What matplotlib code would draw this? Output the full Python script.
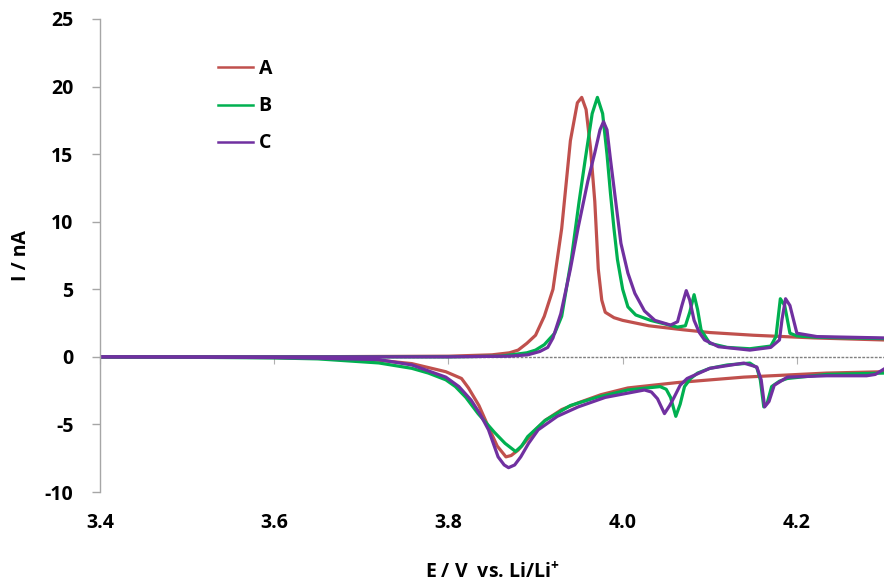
import matplotlib
matplotlib.use("Agg")
import matplotlib.pyplot as plt

# potential (V) and current (nA)
A_up_x = [3.40, 3.60, 3.80, 3.85, 3.87, 3.88, 3.89, 3.90, 3.91, 3.92, 3.93, 3.94, 3.948,
          3.953, 3.958, 3.963, 3.968, 3.972, 3.976, 3.98, 3.99, 4.00, 4.03, 4.07, 4.10,
          4.15, 4.22, 4.30]
A_up_y = [0.0, 0.0, 0.05, 0.15, 0.3, 0.5, 1.0, 1.6, 3.0, 5.0, 9.5, 16.0, 18.8,
          19.2, 18.3, 15.5, 11.5, 6.5, 4.2, 3.3, 2.9, 2.7, 2.3, 2.0, 1.8,
          1.6, 1.4, 1.25]
A_dn_x = [3.40, 3.50, 3.60, 3.65, 3.72, 3.758, 3.797, 3.815, 3.823, 3.835, 3.846, 3.856,
          3.866, 3.872, 3.88, 3.888, 3.90, 3.911, 3.93, 3.949, 3.975, 4.006, 4.063,
          4.139, 4.234, 4.30]
A_dn_y = [0.0, -0.02, -0.05, -0.1, -0.25, -0.5, -1.1, -1.6, -2.3, -3.6, -5.2, -6.6,
          -7.4, -7.3, -6.9, -6.3, -5.4, -4.7, -3.9, -3.4, -2.8, -2.3, -1.9,
          -1.5, -1.2, -1.1]

B_up_x = [3.40, 3.60, 3.80, 3.86, 3.89, 3.90, 3.91, 3.922, 3.93, 3.941, 3.95, 3.957,
          3.965, 3.971, 3.977, 3.982, 3.986, 3.99, 3.994, 4.00, 4.006, 4.015, 4.032,
          4.063, 4.072, 4.077, 4.082, 4.086, 4.09, 4.10, 4.12, 4.146, 4.17, 4.176,
          4.181, 4.186, 4.192, 4.20, 4.223, 4.30]
B_up_y = [0.0, 0.0, 0.0, 0.05, 0.3, 0.5, 0.9, 1.75, 3.0, 7.2, 11.5, 14.6,
          18.0, 19.2, 18.0, 15.0, 12.1, 9.5, 7.2, 5.0, 3.7, 3.1, 2.7,
          2.2, 2.3, 3.3, 4.6, 3.5, 2.0, 1.0, 0.7, 0.6, 0.8, 1.5,
          4.3, 3.8, 1.75, 1.55, 1.45, 1.35]
B_dn_x = [3.40, 3.50, 3.60, 3.65, 3.72, 3.758, 3.777, 3.797, 3.808, 3.82, 3.834, 3.853,
          3.865, 3.877, 3.884, 3.891, 3.911, 3.94, 3.97, 4.006, 4.043, 4.05, 4.055,
          4.061, 4.066, 4.071, 4.078, 4.086, 4.10, 4.12, 4.146, 4.154, 4.158, 4.162,
          4.166, 4.171, 4.18, 4.189, 4.234, 4.30]
B_dn_y = [0.0, -0.03, -0.08, -0.15, -0.45, -0.85, -1.2, -1.7, -2.2, -3.0, -4.2, -5.6,
          -6.4, -7.0, -6.6, -5.9, -4.7, -3.6, -3.0, -2.45, -2.2, -2.4, -3.0,
          -4.4, -3.5, -2.2, -1.6, -1.2, -0.85, -0.6, -0.46, -0.8, -1.7, -3.7,
          -3.4, -2.2, -1.8, -1.6, -1.3, -1.2]

C_up_x = [3.40, 3.80, 3.87, 3.891, 3.905, 3.914, 3.92, 3.929, 3.94, 3.949, 3.96, 3.968,
          3.974, 3.978, 3.982, 3.986, 3.992, 3.998, 4.006, 4.014, 4.025, 4.037, 4.055,
          4.063, 4.068, 4.073, 4.077, 4.082, 4.088, 4.094, 4.11, 4.146, 4.17, 4.18,
          4.183, 4.187, 4.192, 4.20, 4.223, 4.30]
C_up_y = [0.0, 0.0, 0.05, 0.15, 0.4, 0.7, 1.4, 3.2, 6.5, 9.6, 13.0, 15.1,
          16.8, 17.4, 16.8, 14.6, 11.5, 8.4, 6.2, 4.7, 3.4, 2.7, 2.35,
          2.6, 3.8, 4.9, 4.2, 2.7, 1.8, 1.25, 0.75, 0.5, 0.7, 1.25,
          2.8, 4.3, 3.8, 1.75, 1.5, 1.4]
C_dn_x = [3.40, 3.50, 3.60, 3.65, 3.72, 3.758, 3.797, 3.812, 3.826, 3.836, 3.846, 3.857,
          3.864, 3.869, 3.876, 3.883, 3.892, 3.903, 3.925, 3.949, 3.98, 4.025, 4.033,
          4.04, 4.048, 4.054, 4.059, 4.066, 4.074, 4.10, 4.139, 4.154, 4.159, 4.163,
          4.168, 4.174, 4.189, 4.234, 4.28, 4.29, 4.30]
C_dn_y = [0.0, -0.02, -0.05, -0.1, -0.2, -0.6, -1.5, -2.2, -3.2, -4.2, -5.4, -7.4,
          -8.0, -8.2, -8.0, -7.4, -6.4, -5.4, -4.4, -3.7, -3.0, -2.45, -2.6,
          -3.1, -4.2, -3.6, -3.0, -2.1, -1.6, -0.85, -0.46, -0.75, -1.7, -3.7,
          -3.3, -2.1, -1.5, -1.4, -1.4, -1.3, -0.9]

series = [
    ("A", "#C0504D", A_up_x, A_up_y, A_dn_x, A_dn_y),
    ("B", "#00B050", B_up_x, B_up_y, B_dn_x, B_dn_y),
    ("C", "#7030A0", C_up_x, C_up_y, C_dn_x, C_dn_y),
]

x_ticks = [3.4, 3.6, 3.8, 4.0, 4.2]
y_ticks = [-10, -5, 0, 5, 10, 15, 20, 25]

plt.rcParams["font.family"] = ["Open Sans", "DejaVu Sans"]
plt.rcParams["font.weight"] = "bold"
plt.rcParams["mathtext.fontset"] = "custom"
plt.rcParams["mathtext.bf"] = "Open Sans:bold"

fig = plt.figure(figsize=(8.84, 5.87), dpi=100)
ax = fig.add_axes([100 / 884, 95 / 587, 784 / 884, 473 / 587])

for name, color, ux, uy, dx, dy in series:
    # anodic and cathodic sweeps drawn as two pieces so the edge stays open
    ax.plot(ux, uy, color=color, lw=2.3, label=name, solid_joinstyle="round")
    ax.plot(dx, dy, color=color, lw=2.3, solid_joinstyle="round")

ax.set_xlim(3.4, 4.3)
ax.set_ylim(-10, 25)

for s in ["top", "right", "bottom"]:
    ax.spines[s].set_visible(False)
ax.spines["left"].set_color("#A6A6A6")
ax.spines["left"].set_linewidth(1.0)

ax.set_yticks(y_ticks)
ax.set_yticklabels([str(v) for v in y_ticks], fontsize=14, fontweight="bold")
ax.tick_params(axis="y", direction="out", length=6, width=1, color="#A6A6A6", pad=13)

ax.set_xticks(x_ticks)
ax.set_xticklabels([f"{v:.1f}" for v in x_ticks], fontsize=14, fontweight="bold")
ax.tick_params(axis="x", length=0, pad=15)

# dotted zero axis with its own small tick marks
zero = ax.secondary_xaxis(10 / 35)
zero.spines["bottom"].set_linestyle((0, (1, 2)))
zero.spines["bottom"].set_color("#808080")
zero.spines["bottom"].set_linewidth(1.0)
zero.set_xticks(x_ticks)
zero.tick_params(axis="x", direction="out", length=5, width=0.8, color="#B0B0B0",
                 labelbottom=False)

ax.set_ylabel("I / nA", fontsize=14, fontweight="bold", labelpad=10)
ax.set_xlabel("E / V  vs. Li/Li$^{\\mathbf{+}}$", fontsize=14, fontweight="bold", labelpad=21)

leg = ax.legend(loc="upper left", bbox_to_anchor=(0.128, 0.952), frameon=False,
                handlelength=1.8, handletextpad=0.3, labelspacing=0.88,
                prop={"size": 14, "weight": "bold"})
for h in leg.get_lines():
    h.set_linewidth(1.8)

fig.savefig("out.png", dpi=100)
